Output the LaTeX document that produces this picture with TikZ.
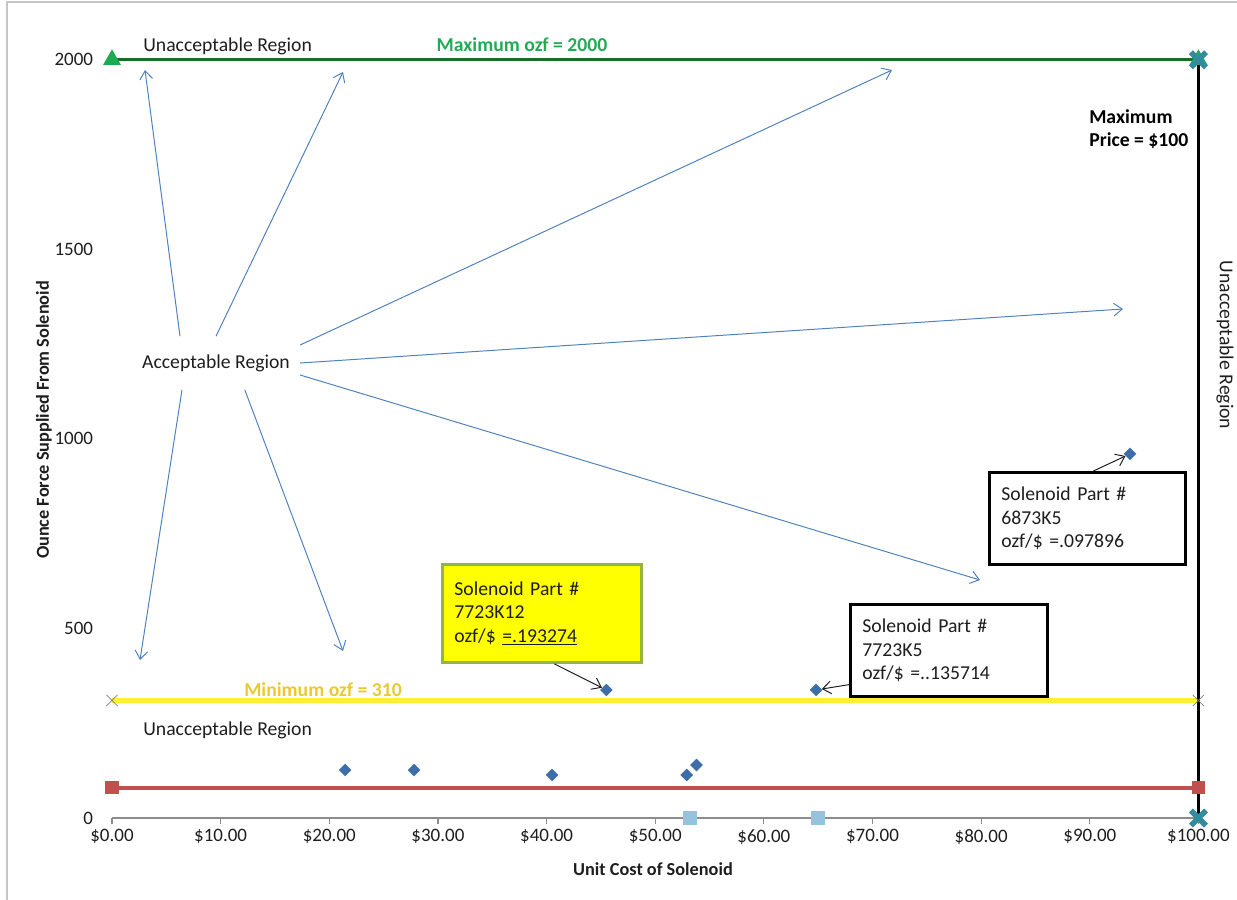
\documentclass[tikz,border=0pt]{standalone}
\usepackage{fontspec}
\setmainfont{Carlito}
\usetikzlibrary{arrows.meta,shapes.geometric}
\definecolor{rayblue}{RGB}{79,129,189}
\definecolor{ptblue}{RGB}{61,110,170}
\definecolor{limgreen}{RGB}{20,110,45}
\definecolor{txtgreen}{RGB}{35,170,85}
\definecolor{trigreen}{RGB}{30,170,80}
\definecolor{limyellow}{RGB}{255,240,50}
\definecolor{txtyellow}{RGB}{235,200,50}
\definecolor{limred}{RGB}{192,80,77}
\definecolor{sqblue}{RGB}{146,196,222}
\definecolor{xteal}{RGB}{50,140,160}
\definecolor{boxyellow}{RGB}{255,255,0}
\definecolor{boxgreen}{RGB}{150,180,70}
\definecolor{txtgray}{RGB}{30,30,30}
\definecolor{axisgray}{RGB}{140,140,140}
\tikzstyle{lbl}     = [font=\fontsize{14}{16.7}\selectfont, text=txtgray, inner sep=0pt]
\tikzstyle{lblb}    = [font=\bfseries\fontsize{14}{16.7}\selectfont, inner sep=0pt]
\tikzstyle{tck}     = [font=\fontsize{13.5}{15}\selectfont, text=txtgray]
\tikzstyle{ttl}     = [font=\bfseries\fontsize{13}{15}\selectfont, text=txtgray]
\tikzstyle{ray}     = [rayblue, line width=0.7pt, -{Straight Barb[length=6pt,width=9pt]}]
\tikzstyle{ptr}     = [txtgray, line width=0.7pt, -{Straight Barb[length=6pt,width=9pt]}]
\tikzstyle{pt}      = [diamond, fill=ptblue, inner sep=0pt, minimum width=0.32cm, minimum height=0.32cm]
\tikzstyle{sqmk}    = [rectangle, inner sep=0pt, minimum size=0.34cm]
\tikzstyle{trimk}   = [regular polygon, regular polygon sides=3, fill=trigreen, inner sep=0pt, minimum size=0.52cm]
\tikzstyle{partbox} = [lbl, draw=black, line width=2pt, fill=white, align=left, inner xsep=0.3cm, minimum height=2.3cm, anchor=north west]

\begin{document}
\begin{tikzpicture}[x=0.025cm, y=-0.025cm]
  \useasboundingbox (0,0) rectangle (1237,900);
  \draw[gray!45, line width=1.2pt] (7,900) -- (7,2) -- (1237,2);
  % chart area in data units
  \begin{scope}[shift={(112,818)}, x=0.27155cm, y=0.0094763cm]
    \draw[axisgray, line width=0.8pt] (0,0) -- (100,0);
    \foreach \i in {0,10,...,100} {
      \draw[axisgray, line width=0.8pt] (\i,0) -- ++(0,-0.15cm) node[below, tck, inner sep=3.5pt] {\$\i.00};
    }
    \foreach \v in {0,500,1000,1500,2000} {
      \node[tck, anchor=east, xshift=-0.35cm] at (0,\v) {\v};
    }
    \draw[limred, line width=2.8pt] (0,80) -- (100,80);
    \draw[limyellow, line width=3.6pt] (0,310) -- (100,310);
    \draw[limgreen, line width=2.2pt] (0,2000) -- (100,2000);
    \draw[black, line width=2.2pt] (100,0) -- (100,2000);
    \foreach \xx in {0,100} {
      \node[trimk] at (\xx,2000) {};
      \node[sqmk, fill=limred] at (\xx,80) {};
      \draw[gray, line width=0.5pt] (\xx,310) ++(-0.14cm,-0.14cm) -- ++(0.28cm,0.28cm) ++(-0.28cm,0) -- ++(0.28cm,-0.28cm);
    }
    \foreach \yy in {0,2000} {
      \draw[xteal, line width=4pt] (100,\yy) ++(-0.19cm,-0.19cm) -- ++(0.38cm,0.38cm) ++(-0.38cm,0) -- ++(0.38cm,-0.38cm);
    }
    \node[sqmk, fill=sqblue] at (53.2,0) {};
    \node[sqmk, fill=sqblue] at (65,0) {};
    % solenoid data points
    \node[pt] (p1) at (21.45,126.6) {};
    \node[pt] (p2) at (27.8,126.6) {};
    \node[pt] (p3) at (40.5,113.5) {};
    \node[pt] (p4) at (52.9,113.5) {};
    \node[pt] (p5) at (53.8,139.8) {};
    \node[pt] (k12) at (45.5,337.7) {};
    \node[pt] (k5) at (64.8,337.7) {};
    \node[pt] (p6873) at (93.7,960.4) {};
  \end{scope}
  % labels
  \node[lbl, anchor=west] (uTop) at (143,46) {Unacceptable Region};
  \node[lblb, text=txtgreen] (maxF) at (522,45) {Maximum ozf = 2000};
  \node[lblb, align=left, anchor=north west] (maxP) at (1089,109) {Maximum\\Price = \$100};
  \node[lbl, rotate=-90] (uRight) at (1225,345) {Unacceptable Region};
  \node[lblb, text=txtyellow] (minF) at (323,690) {Minimum ozf = 310};
  \node[lbl, anchor=west] (uBot) at (143,730) {Unacceptable Region};
  \node[lbl, inner xsep=0.25cm, inner ysep=0.45cm] (acc) at (216,363) {Acceptable Region};
  % rays out of the acceptable region
  \coordinate (t1) at (145,70);
  \coordinate (t2) at (343,72);
  \coordinate (t3) at (892,70);
  \coordinate (t4) at (1123,309);
  \coordinate (t5) at (980,580);
  \coordinate (t6) at (343,651);
  \coordinate (t7) at (140,660);
  \draw[ray] ([xshift=-0.9cm]acc.north) -- (t1);
  \draw[ray] (acc.north) -- (t2);
  \draw[ray] ([yshift=-0.22cm]acc.north east) -- (t3);
  \draw[ray] (acc.east) -- (t4);
  \draw[ray] ([yshift=-0.3cm]acc.east) -- (t5);
  \draw[ray] ([xshift=0.72cm]acc.south) -- (t6);
  \draw[ray] ([xshift=-0.85cm]acc.south) -- (t7);
  % part call-outs
  \node[partbox, fill=boxyellow, draw=boxgreen, text width=4.375cm, minimum height=2.45cm] (b12) at (441,563) {Solenoid Part \#\\7723K12\\ozf/\$ \underline{=.193274}};
  \node[partbox, text width=4.325cm] (b5) at (849,603) {Solenoid Part \#\\7723K5\\ozf/\$ =..135714};
  \node[partbox, text width=4.3cm] (b6873) at (988,471) {Solenoid Part \#\\6873K5\\ozf/\$ =.097896};
  \draw[ptr] ([xshift=0.31cm]b12.south) -- (k12);
  \draw[ptr] ([yshift=0.33cm]b5.south west) -- (k5);
  \draw[ptr] ([xshift=0.15cm]b6873.north) -- (p6873);
  % axis titles
  \node[ttl, rotate=90] (yTitle) at (44,420) {Ounce Force Supplied From Solenoid};
  \node[ttl] (xTitle) at (653,869) {Unit Cost of Solenoid};
\end{tikzpicture}
\end{document}
